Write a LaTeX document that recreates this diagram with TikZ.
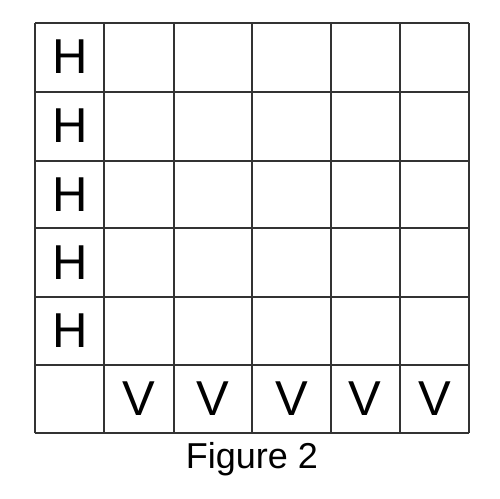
\documentclass[tikz,border=0pt]{standalone}
\usepackage{fontspec}
\setmainfont{Liberation Sans}

\tikzstyle{gridline} = [draw,line width=1.8pt,black!80]
\tikzstyle{letter} = [inner sep=0pt,font=\fontsize{49}{49}\selectfont]
\tikzstyle{caption} = [inner sep=0pt,anchor=base,font=\fontsize{36}{36}\selectfont]

\begin{document}
\begin{tikzpicture}[x=1pt,y=1pt]
      \useasboundingbox (0,0) rectangle (500,498);
      %grid
      \foreach \x in {35,104.3,174,252.3,330.7,400,469.3}
      {
        \draw[gridline] (\x,64.7) -- (\x,475.3);
      };
      \foreach \y in {475.3,406.3,337.3,269.7,201,133,64.7}
      {
        \draw[gridline] (35,\y) -- (469.3,\y);
      };
      %letters
      \foreach \nodename/\y in {h1/441, h2/372, h3/303.5, h4/235.5, h5/167}
      {
        \node[letter] (\nodename) at (70,\y) {H};
      };
      \foreach \nodename/\x in {v1/139, v2/213, v3/291.5, v4/365.3, v5/434.7}
      {
        \node[letter] (\nodename) at (\x,99) {V};
      };
      \node[caption] (figcaption) at (252,30) {Figure 2};
    \end{tikzpicture}
\end{document}
